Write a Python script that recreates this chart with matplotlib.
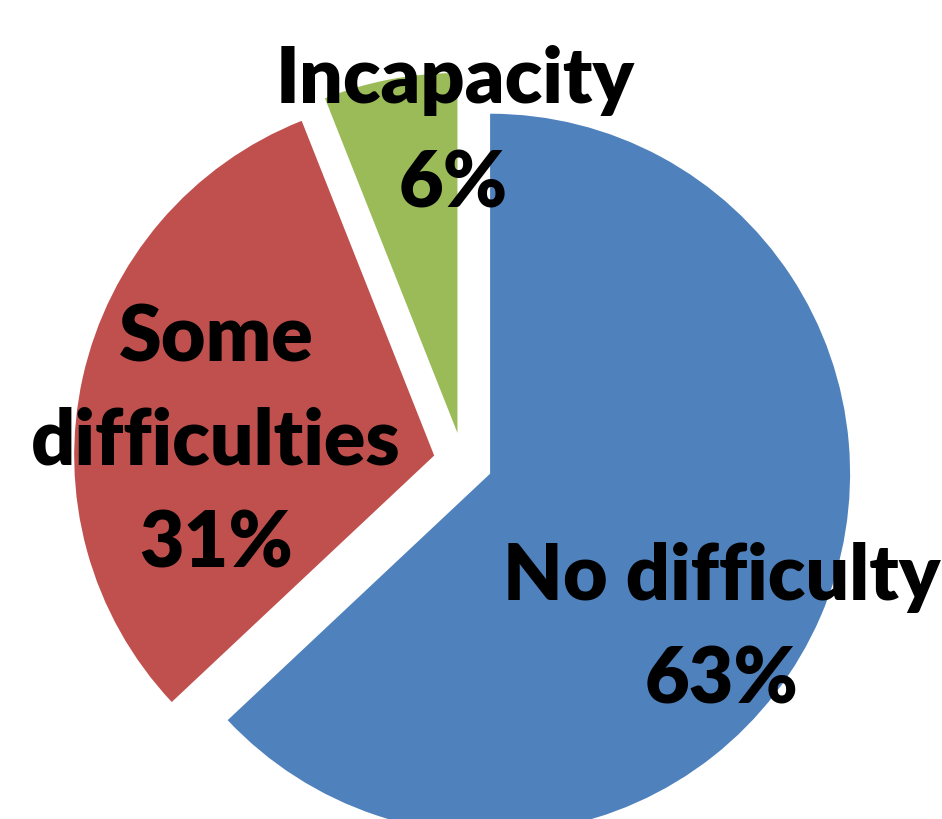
import matplotlib.pyplot as plt

# Data
categories = ["No difficulty", "Some difficulties", "Incapacity"]
shares = [63, 31, 6]
colors = ["#4F81BD", "#C0504D", "#9BBB59"]

# label lines per slice, with (x, baseline y) in pixel coordinates of the picture
label_lines = [
    ["No difficulty", "63%"],
    ["Some", "difficulties", "31%"],
    ["Incapacity", "6%"],
]
label_pos = [
    [(722, 600), (722, 704)],
    [(216, 362), (216, 465), (216, 568)],
    [(455, 103), (453, 207)],
]

W, H = 942, 820
R = 360
fig = plt.figure(figsize=(W / 100, H / 100), dpi=100)
ax = fig.add_axes([0, 0, 1, 1])

# explode is in data units here (pixels), not a fraction of the radius
ax.pie(
    shares,
    colors=colors,
    startangle=90,
    counterclock=False,
    center=(463, H - 463),
    radius=R,
    explode=[0.082 * R] * 3,
    wedgeprops=dict(linewidth=0),
    frame=True,
)
ax.set_xlim(0, W)
ax.set_ylim(0, H)
ax.set_aspect("equal")
ax.axis("off")

for lines, pos in zip(label_lines, label_pos):
    for txt, (x, y) in zip(lines, pos):
        ax.text(x, H - y, txt, ha="center", va="baseline",
                fontsize=55.5, fontweight="heavy", family="Lato", color="black")

fig.savefig("out.png", dpi=100)
